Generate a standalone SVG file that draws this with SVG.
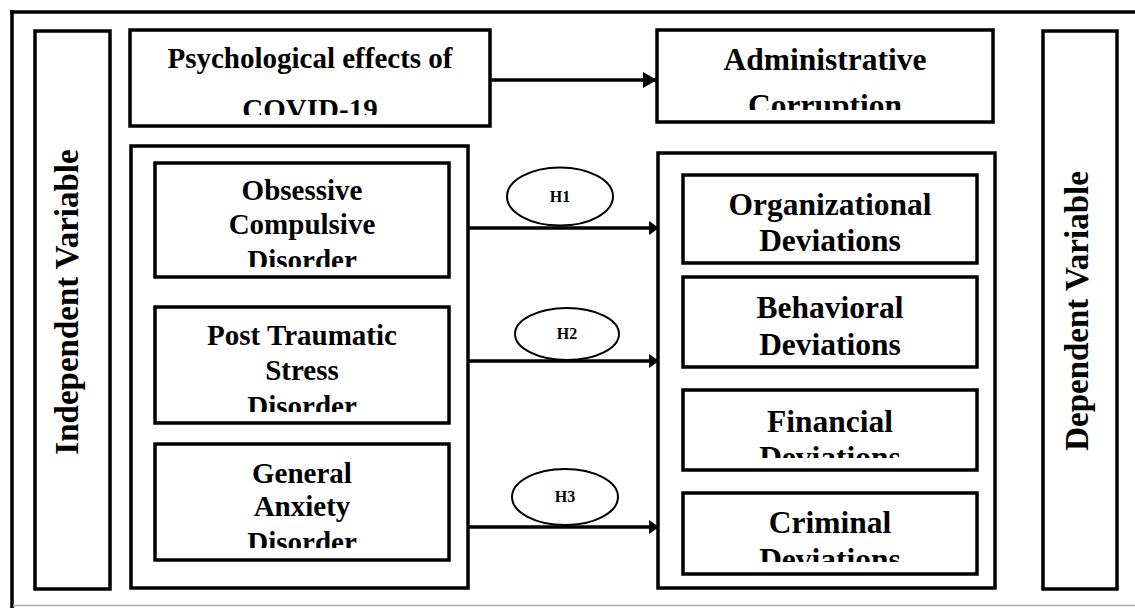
<svg xmlns="http://www.w3.org/2000/svg" width="1135" height="608" viewBox="0 0 1135 608">
<style>
.box{fill:#fff;stroke:#000;stroke-width:3.5}
.ell{fill:#fff;stroke:#000;stroke-width:2}
.t{font-family:"Liberation Serif","Times New Roman",serif;font-weight:bold;fill:#000;text-anchor:middle}
.conn{stroke:#000;stroke-width:3.5;fill:none}
</style>
<defs>
<marker id="ah" markerUnits="userSpaceOnUse" markerWidth="16" markerHeight="16" refX="14" refY="8" orient="auto">
<path d="M0,0 L14,8 L0,16 Z" fill="#000"/>
</marker>
<marker id="ah2" markerUnits="userSpaceOnUse" markerWidth="12" markerHeight="16" refX="10" refY="8" orient="auto">
<path d="M0,1 L10,8 L0,15 Z" fill="#000"/>
</marker>
<clipPath id="cPsy"><rect x="132" y="32" width="356" height="83"/></clipPath>
<clipPath id="cAdm"><rect x="659" y="32" width="332" height="78"/></clipPath>
<clipPath id="cOcd"><rect x="157" y="165" width="290" height="102"/></clipPath>
<clipPath id="cPts"><rect x="157" y="309" width="290" height="103"/></clipPath>
<clipPath id="cGad"><rect x="157" y="446" width="290" height="102"/></clipPath>
<clipPath id="cOrg"><rect x="685" y="177" width="290" height="76"/></clipPath>
<clipPath id="cBeh"><rect x="685" y="279" width="290" height="86"/></clipPath>
<clipPath id="cFin"><rect x="685" y="392" width="290" height="66"/></clipPath>
<clipPath id="cCri"><rect x="685" y="495" width="290" height="67"/></clipPath>
</defs>
<rect width="1135" height="608" fill="#fff"/>
<g id="frame">
<line x1="10" y1="12" x2="1135" y2="12" stroke="#000" stroke-width="3.5"/>
<line x1="12" y1="10" x2="12" y2="608" stroke="#000" stroke-width="3.5"/>
<line x1="13" y1="605.5" x2="1135" y2="605.5" stroke="#a8a8a8" stroke-width="1.5"/>
</g>
<g id="independent-label">
<rect class="box" x="35" y="31" width="75" height="558"/>
<text class="t" font-size="33" transform="translate(78,302) rotate(-90)">Independent Variable</text>
</g>
<g id="dependent-label">
<rect class="box" x="1043" y="31" width="74" height="558"/>
<text class="t" font-size="33" transform="translate(1088,311) rotate(-90)">Dependent Variable</text>
</g>
<g id="psych-effects">
<rect class="box" x="130" y="30" width="360" height="96"/>
<g clip-path="url(#cPsy)">
<text class="t" font-size="29" x="310" y="68">Psychological effects of</text>
<text class="t" font-size="29" x="310" y="119">COVID-19</text>
</g>
</g>
<g id="admin-corruption">
<rect class="box" x="657" y="30" width="336" height="92"/>
<g clip-path="url(#cAdm)">
<text class="t" font-size="31.5" x="825" y="70">Administrative</text>
<text class="t" font-size="31.5" x="825" y="116">Corruption</text>
</g>
</g>
<g id="independent-container">
<rect class="box" x="131" y="146" width="337" height="442"/>
</g>
<g id="ocd">
<rect class="box" x="155" y="163" width="294" height="114"/>
<g clip-path="url(#cOcd)">
<text class="t" font-size="29" x="302" y="200">Obsessive</text>
<text class="t" font-size="29" x="302" y="234">Compulsive</text>
<text class="t" font-size="29" x="302" y="270">Disorder</text>
</g>
</g>
<g id="ptsd">
<rect class="box" x="155" y="307" width="294" height="116"/>
<g clip-path="url(#cPts)">
<text class="t" font-size="29" x="302" y="345">Post Traumatic</text>
<text class="t" font-size="29" x="302" y="380">Stress</text>
<text class="t" font-size="29" x="302" y="416">Disorder</text>
</g>
</g>
<g id="gad">
<rect class="box" x="155" y="444" width="294" height="116"/>
<g clip-path="url(#cGad)">
<text class="t" font-size="29" x="302" y="483">General</text>
<text class="t" font-size="29" x="302" y="516">Anxiety</text>
<text class="t" font-size="29" x="302" y="552">Disorder</text>
</g>
</g>
<g id="dependent-container">
<rect class="box" x="658" y="153" width="337" height="435"/>
</g>
<g id="organizational">
<rect class="box" x="683" y="175" width="294" height="88"/>
<g clip-path="url(#cOrg)">
<text class="t" font-size="31.5" x="830" y="215">Organizational</text>
<text class="t" font-size="31.5" x="830" y="251">Deviations</text>
</g>
</g>
<g id="behavioral">
<rect class="box" x="683" y="277" width="294" height="90"/>
<g clip-path="url(#cBeh)">
<text class="t" font-size="31.5" x="830" y="318">Behavioral</text>
<text class="t" font-size="31.5" x="830" y="355">Deviations</text>
</g>
</g>
<g id="financial">
<rect class="box" x="683" y="390" width="294" height="80"/>
<g clip-path="url(#cFin)">
<text class="t" font-size="31.5" x="830" y="432">Financial</text>
<text class="t" font-size="31.5" x="830" y="468">Deviations</text>
</g>
</g>
<g id="criminal">
<rect class="box" x="683" y="493" width="294" height="81"/>
<g clip-path="url(#cCri)">
<text class="t" font-size="31.5" x="830" y="533">Criminal</text>
<text class="t" font-size="31.5" x="830" y="570">Deviations</text>
</g>
</g>
<g id="connectors">
<line class="conn" x1="490" y1="80" x2="657" y2="80" marker-end="url(#ah)"/>
<line class="conn" x1="468" y1="228" x2="659" y2="228" marker-end="url(#ah2)"/>
<line class="conn" x1="468" y1="361" x2="659" y2="361" marker-end="url(#ah2)"/>
<line class="conn" x1="468" y1="527" x2="659" y2="527" marker-end="url(#ah2)"/>
</g>
<g id="h1">
<ellipse class="ell" cx="560" cy="196.5" rx="53" ry="29"/>
<text class="t" font-size="16" x="560" y="202">H1</text>
</g>
<g id="h2">
<ellipse class="ell" cx="567" cy="334" rx="52" ry="26"/>
<text class="t" font-size="16" x="567" y="339">H2</text>
</g>
<g id="h3">
<ellipse class="ell" cx="565" cy="497" rx="53" ry="28"/>
<text class="t" font-size="16" x="565" y="502">H3</text>
</g>
</svg>
